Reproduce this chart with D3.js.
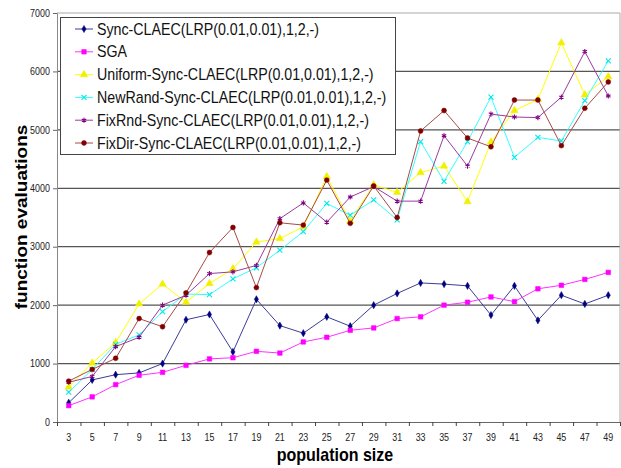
<!DOCTYPE html>
<html>
<head>
<meta charset="utf-8">
<script src="https://cdn.jsdelivr.net/npm/d3@7"></script>
<style>
  html, body { margin: 0; padding: 0; background: #fff; }
  svg { display: block; font-family: Arial, "Liberation Sans", sans-serif; }
</style>
</head>
<body>
<div id="chart"></div>
<script>
// population sizes on the x axis
const categories = [3, 5, 7, 9, 11, 13, 15, 17, 19, 21, 23, 25, 27, 29, 31, 33, 35, 37, 39, 41, 43, 45, 47, 49];
const yTicks = [0, 1000, 2000, 3000, 4000, 5000, 6000, 7000];

// function evaluations per algorithm
const syncClaec = [330, 720, 810, 840, 1000, 1750, 1840, 1200, 2100, 1650, 1520, 1800, 1640, 2000, 2200, 2380, 2360, 2330, 1830, 2330, 1740, 2170, 2020, 2170];
const sga = [280, 430, 640, 800, 850, 970, 1080, 1100, 1210, 1180, 1370, 1450, 1570, 1610, 1770, 1800, 2000, 2050, 2140, 2060, 2280, 2340, 2440, 2560];
const uniformSync = [600, 1010, 1360, 2020, 2360, 2050, 2370, 2620, 3080, 3140, 3340, 4200, 3440, 4060, 3930, 4270, 4380, 3770, 4790, 5330, 5520, 6490, 5600, 5910];
const newRandSync = [510, 900, 1330, 1490, 1890, 2190, 2180, 2450, 2640, 2940, 3260, 3740, 3540, 3800, 3460, 4800, 4120, 4800, 5560, 4530, 4870, 4810, 5500, 6180];
const fixRndSync = [680, 780, 1290, 1450, 2000, 2170, 2540, 2570, 2680, 3480, 3750, 3420, 3850, 4030, 3780, 3780, 4900, 4380, 5270, 5220, 5210, 5560, 6340, 5580];
const fixDirSync = [700, 900, 1090, 1770, 1630, 2210, 2900, 3330, 2300, 3410, 3370, 4140, 3400, 4040, 3500, 4980, 5330, 4860, 4710, 5510, 5510, 4730, 5370, 5820];

const seriesNames = [
    "Sync-CLAEC(LRP(0.01,0.01),1,2,-)",
    "SGA",
    "Uniform-Sync-CLAEC(LRP(0.01,0.01),1,2,-)",
    "NewRand-Sync-CLAEC(LRP(0.01,0.01),1,2,-)",
    "FixRnd-Sync-CLAEC(LRP(0.01,0.01),1,2,-)",
    "FixDir-Sync-CLAEC(LRP(0.01,0.01),1,2,-)"
];
const seriesValues = [syncClaec, sga, uniformSync, newRandSync, fixRndSync, fixDirSync];

// look of each series
const styles = [
    { line: "#3c3c98", mark: "#000080", symbol: d3.symbolDiamond, size: 15, stroked: false },
    { line: "#ff33ff", mark: "#ff00ff", symbol: d3.symbolSquare, size: 21, stroked: false },
    { line: "#ffff00", mark: "#f0f000", symbol: d3.symbolTriangle, size: 24, stroked: false },
    { line: "#33ffff", mark: "#00e8e8", symbol: d3.symbolX, size: 18, stroked: true },
    { line: "#9a3c9e", mark: "#800080", symbol: d3.symbolAsterisk, size: 18, stroked: true },
    { line: "#a84a4a", mark: "#800000", symbol: d3.symbolCircle, size: 19, stroked: false }
];

const width = 621, height = 468;
const plot = { left: 57, top: 13, right: 620, bottom: 422 };
const sx = 0.89; // text in the original is a little condensed

const svg = d3.select("#chart").append("svg")
    .attr("width", width)
    .attr("height", height);

const x = d3.scaleBand()
    .domain(categories)
    .range([plot.left, plot.right])
    .padding(0);
const xEdge = d3.scaleLinear()
    .domain([0, categories.length])
    .range([plot.left, plot.right]);
const y = d3.scaleLinear()
    .domain([0, 7000])
    .range([plot.bottom, plot.top]);
const cx = d => x(d) + x.bandwidth() / 2;

// gridlines
svg.append("g")
    .selectAll("line")
    .data(yTicks.filter(v => v > 0))
    .enter().append("line")
    .attr("x1", plot.left)
    .attr("x2", plot.right)
    .attr("y1", d => y(d))
    .attr("y2", d => y(d))
    .attr("stroke", d => d === 7000 ? "#aaa" : "#555")
    .attr("stroke-width", 1.2);

// right border
svg.append("line")
    .attr("x1", plot.right).attr("x2", plot.right)
    .attr("y1", plot.top).attr("y2", plot.bottom)
    .attr("stroke", "#aaa");

// y axis
const yAxis = svg.append("g")
    .attr("transform", `translate(${plot.left},0)`)
    .call(d3.axisLeft(y).tickValues(yTicks).tickSize(4).tickFormat(d3.format("d")));
yAxis.select(".domain").attr("stroke", "#888");
yAxis.selectAll(".tick line").attr("stroke", "#666");
yAxis.selectAll(".tick text")
    .attr("font-size", 10)
    .attr("fill", "#222")
    .attr("x", -8)
    .attr("transform", `scale(${sx},1)`);

// x axis: ticks on band edges, labels in band centres
const xAxis = svg.append("g")
    .attr("transform", `translate(0,${plot.bottom})`)
    .call(d3.axisBottom(xEdge).tickValues(d3.range(categories.length + 1)).tickSize(4).tickFormat(""));
xAxis.select(".domain").attr("stroke", "#666");
xAxis.selectAll(".tick line").attr("stroke", "#444");

svg.append("g")
    .selectAll("text")
    .data(categories)
    .enter().append("text")
    .attr("transform", d => `translate(${cx(d)},441) scale(${sx},1)`)
    .attr("text-anchor", "middle")
    .attr("font-size", 10)
    .attr("fill", "#222")
    .text(d => d);

// axis titles
svg.append("text")
    .attr("transform", `translate(335,461) scale(${sx},1)`)
    .attr("text-anchor", "middle")
    .attr("font-size", 18)
    .attr("font-weight", "bold")
    .text("population size");

svg.append("text")
    .attr("transform", `translate(27,217) rotate(-90) scale(1,${sx})`)
    .attr("text-anchor", "middle")
    .attr("font-size", 19)
    .attr("font-weight", "bold")
    .text("function evaluations");

// series
const line = d3.line()
    .x((d, i) => cx(categories[i]))
    .y(d => y(d));

seriesValues.forEach((vals, k) => {
    const st = styles[k];
    const g = svg.append("g").attr("class", "series");
    g.append("path")
        .datum(vals)
        .attr("fill", "none")
        .attr("stroke", st.line)
        .attr("stroke-width", 1)
        .attr("d", line);
    g.selectAll("path.mark")
        .data(vals)
        .enter().append("path")
        .attr("class", "mark")
        .attr("transform", (d, i) => `translate(${cx(categories[i])},${y(d)})`)
        .attr("d", d3.symbol().type(st.symbol).size(st.size))
        .attr("fill", st.stroked ? "none" : st.mark)
        .attr("stroke", st.mark)
        .attr("stroke-width", st.stroked ? 1.1 : 0.5);
});

// legend
const legend = svg.append("g");
legend.append("rect")
    .attr("x", 60.5).attr("y", 17.5)
    .attr("width", 335).attr("height", 137)
    .attr("fill", "#fff")
    .attr("stroke", "#444");

seriesNames.forEach((name, k) => {
    const st = styles[k];
    const ly = 29 + k * 22.8;
    legend.append("line")
        .attr("x1", 75).attr("x2", 93)
        .attr("y1", ly).attr("y2", ly)
        .attr("stroke", st.line)
        .attr("stroke-width", 1);
    legend.append("path")
        .attr("transform", `translate(84,${ly})`)
        .attr("d", d3.symbol().type(st.symbol).size(st.size))
        .attr("fill", st.stroked ? "none" : st.mark)
        .attr("stroke", st.mark)
        .attr("stroke-width", st.stroked ? 1.1 : 0.5);
    legend.append("text")
        .attr("transform", `translate(97,${ly + 5.5}) scale(${sx},1)`)
        .attr("font-size", 16)
        .attr("fill", "#111")
        .text(name);
});
</script>
</body>
</html>
